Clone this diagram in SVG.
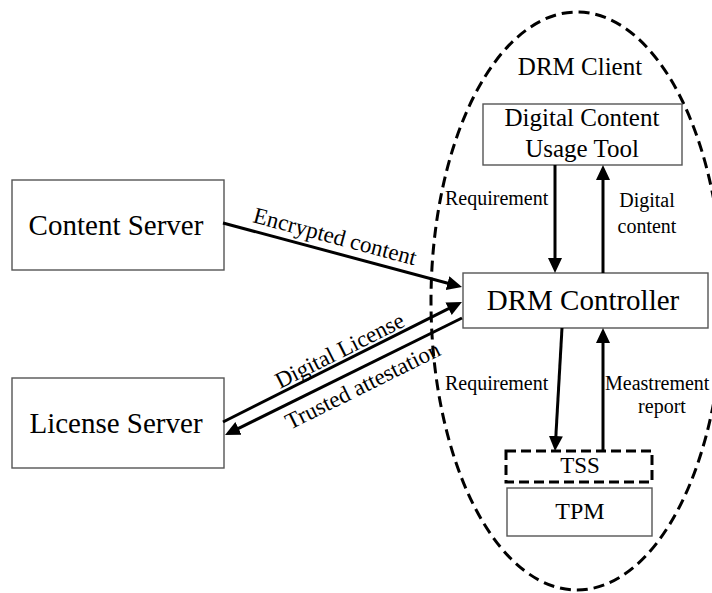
<svg xmlns="http://www.w3.org/2000/svg" width="712" height="593" viewBox="0 0 712 593">
<style>
text{font-family:"Liberation Serif","Times New Roman",serif;fill:#000}
.box{fill:#fff;stroke:#555;stroke-width:1.4}
.big{font-size:29px;text-anchor:middle}
.mid{font-size:24px;text-anchor:middle}
.lbl{font-size:20px}
.ang{font-size:23px}
.arr{stroke:#000;stroke-width:3;fill:none;marker-end:url(#ah)}
</style>
<defs>
<marker id="ah" markerUnits="userSpaceOnUse" markerWidth="16" markerHeight="16" refX="10" refY="7" orient="auto">
<path d="M0,0 L15,7 L0,14 z" fill="#000"/>
</marker>
</defs>
<rect width="712" height="593" fill="#fff"/>
<g id="drm-client">
<ellipse cx="577" cy="301" rx="146" ry="289" fill="none" stroke="#000" stroke-width="3" stroke-dasharray="11 6"/>
<text class="mid" x="580" y="75" style="font-size:25px">DRM Client</text>
</g>
<g id="content-server">
<rect class="box" x="12" y="180" width="212" height="90"/>
<text class="big" x="116" y="235">Content Server</text>
</g>
<g id="license-server">
<rect class="box" x="12" y="378" width="212" height="90"/>
<text class="big" x="116" y="433">License Server</text>
</g>
<g id="usage-tool">
<rect class="box" x="483" y="104" width="199" height="61"/>
<text class="mid" x="582" y="126" style="font-size:25px">Digital Content</text>
<text class="mid" x="582" y="157" style="font-size:25px">Usage Tool</text>
</g>
<g id="drm-controller">
<rect class="box" x="463" y="273" width="245" height="55"/>
<text class="big" x="583" y="310">DRM Controller</text>
</g>
<g id="tss">
<rect x="506" y="451" width="146" height="31" fill="#fff" stroke="#000" stroke-width="3" stroke-dasharray="10 5"/>
<text class="mid" x="580" y="473" style="font-size:23px">TSS</text>
</g>
<g id="tpm">
<rect class="box" x="507" y="488" width="145" height="48"/>
<text class="mid" x="580" y="519">TPM</text>
</g>
<g id="connectors">
<line class="arr" x1="223" y1="223" x2="457.2" y2="285.7"/>
<line class="arr" x1="223" y1="422" x2="457.5" y2="304.2"/>
<line class="arr" x1="462" y1="318" x2="229.5" y2="432.8"/>
<line class="arr" x1="555" y1="165" x2="555" y2="268"/>
<line class="arr" x1="603" y1="273" x2="603" y2="170"/>
<line class="arr" x1="562" y1="328" x2="555.3" y2="446"/>
<line class="arr" x1="603" y1="451" x2="603" y2="333"/>
<text class="ang" transform="translate(252,222) rotate(15)">Encrypted content</text>
<text class="ang" transform="translate(280,389) rotate(-26.7)">Digital License</text>
<text class="ang" transform="translate(290,430) rotate(-26.4)">Trusted attestation</text>
<text class="lbl" x="445" y="205">Requirement</text>
<text class="lbl" x="647" y="207" text-anchor="middle">Digital</text>
<text class="lbl" x="647" y="233" text-anchor="middle">content</text>
<text class="lbl" x="445" y="390">Requirement</text>
<text class="lbl" x="605" y="390">Meastrement</text>
<text class="lbl" x="662" y="413" text-anchor="middle">report</text>
</g>
</svg>
